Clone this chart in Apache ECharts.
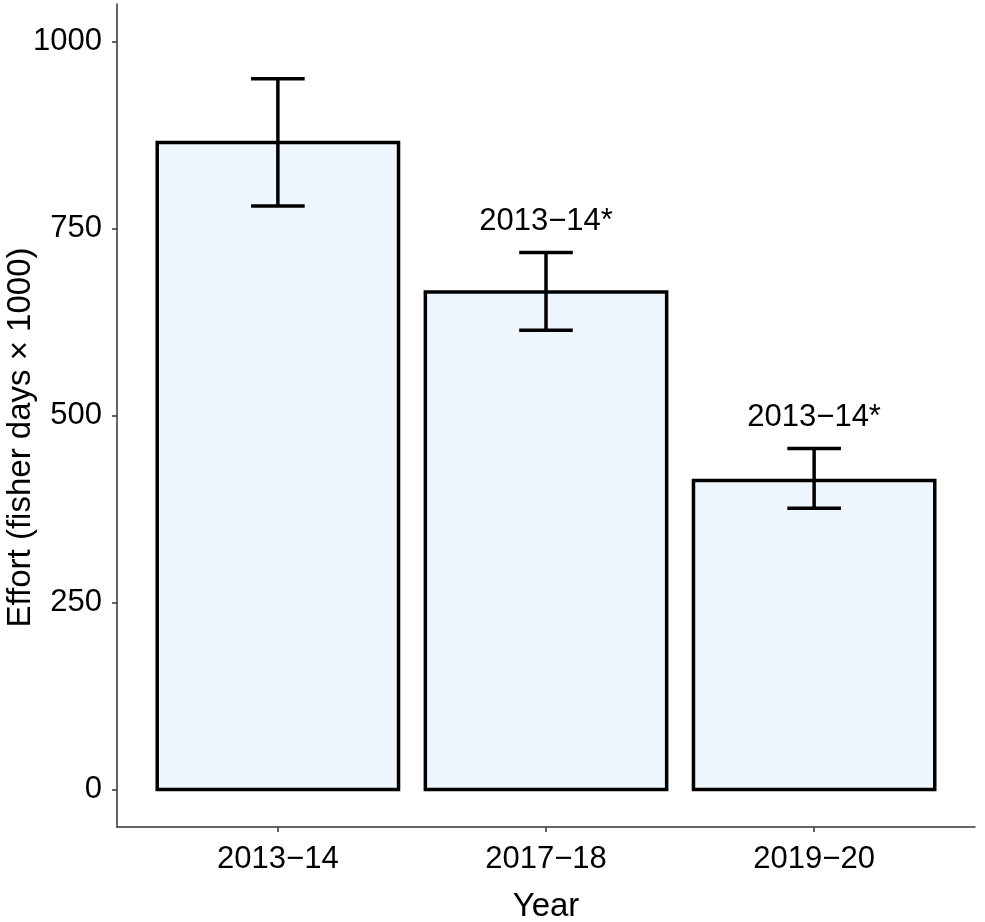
<!DOCTYPE html>
<html>
<head>
<meta charset="utf-8">
<script src="https://cdn.jsdelivr.net/npm/echarts@6/dist/echarts.min.js"></script>
<style>
  html, body { margin: 0; padding: 0; background: #fff; }
  #chart { width: 985px; height: 922px; }
</style>
</head>
<body>
<div id="chart"></div>
<script>
// values
const years = ['2013\u221214', '2017\u221218', '2019\u221220'];
const effort = [865, 665, 413];
const lower = [780, 614, 376];
const upper = [950, 718, 456];
const sigLabels = ['', '2013\u221214*', '2013\u221214*'];
const yTicks = [0, 250, 500, 750, 1000];

const font = 'Liberation Sans, Arial, sans-serif';
const axisColor = '#333';

let myChart = echarts.init(document.getElementById('chart'));

// bars: x position is category index (1..n), width 0.9 like ggplot
const barData = effort.map((v, i) => [i + 1, v]);
const errData = effort.map((v, i) => [i + 1, lower[i], upper[i]]);
const labelData = effort.map((v, i) => [i + 1, upper[i], sigLabels[i]]);

myChart.setOption({
  animation: false,
  grid: { left: 117, right: 10, top: 4, bottom: 95, containLabel: false, outerBoundsMode: 'none' },
  xAxis: {
    type: 'value',
    min: 0.4,
    max: 3.6,
    name: 'Year',
    nameLocation: 'middle',
    nameGap: 63,
    nameMoveOverlap: false,
    nameTextStyle: { fontFamily: font, fontSize: 33, color: '#000' },
    axisLine: { show: true, onZero: false, lineStyle: { color: axisColor, width: 1.5 } },
    axisTick: { show: true, length: 5, customValues: [1, 2, 3], lineStyle: { color: axisColor, width: 1.5 } },
    axisLabel: {
      customValues: [1, 2, 3],
      formatter: v => years[Math.round(v) - 1],
      fontFamily: font, fontSize: 31, color: '#000', margin: 17
    },
    splitLine: { show: false }
  },
  yAxis: {
    type: 'value',
    min: -50,
    max: 1050,
    name: 'Effort (fisher days \u00d7 1000)',
    nameLocation: 'middle',
    nameGap: 80,
    nameMoveOverlap: false,
    nameTextStyle: { fontFamily: font, fontSize: 33, color: '#000', padding: [0, 44, 0, 0] },
    axisLine: { show: true, onZero: false, lineStyle: { color: axisColor, width: 1.5 } },
    axisTick: { show: true, length: 5, customValues: yTicks, lineStyle: { color: axisColor, width: 1.5 } },
    axisLabel: {
      customValues: yTicks,
      formatter: v => String(v),
      fontFamily: font, fontSize: 31, color: '#000', margin: 15
    },
    splitLine: { show: false }
  },
  series: [
    {
      type: 'custom',
      name: 'Effort',
      data: barData,
      renderItem: function (params, api) {
        const x = api.value(0);
        const y = api.value(1);
        const p0 = api.coord([x - 0.45, y]);
        const p1 = api.coord([x + 0.45, 0]);
        return {
          type: 'rect',
          shape: { x: p0[0], y: p0[1], width: p1[0] - p0[0], height: p1[1] - p0[1] },
          style: { fill: '#eef6fe', stroke: '#000', lineWidth: 3.5 }
        };
      }
    },
    {
      type: 'custom',
      name: 'Error',
      data: errData,
      z: 3,
      renderItem: function (params, api) {
        const x = api.value(0);
        const lo = api.value(1);
        const hi = api.value(2);
        const a = api.coord([x, lo]);
        const b = api.coord([x, hi]);
        const capL = api.coord([x - 0.1, lo])[0];
        const capR = api.coord([x + 0.1, lo])[0];
        const st = { stroke: '#000', lineWidth: 3.5 };
        return {
          type: 'group',
          children: [
            { type: 'line', shape: { x1: a[0], y1: a[1], x2: b[0], y2: b[1] }, style: st },
            { type: 'line', shape: { x1: capL, y1: a[1], x2: capR, y2: a[1] }, style: st },
            { type: 'line', shape: { x1: capL, y1: b[1], x2: capR, y2: b[1] }, style: st }
          ]
        };
      }
    },
    {
      type: 'custom',
      name: 'Sig',
      data: labelData,
      z: 4,
      renderItem: function (params, api) {
        const p = api.coord([api.value(0), api.value(1) + 42]);
        return {
          type: 'text',
          style: {
            x: p[0], y: p[1],
            text: labelData[params.dataIndex][2],
            fontFamily: font, fontSize: 31, fill: '#000',
            align: 'center', verticalAlign: 'middle'
          }
        };
      }
    }
  ]
});
</script>
</body>
</html>
